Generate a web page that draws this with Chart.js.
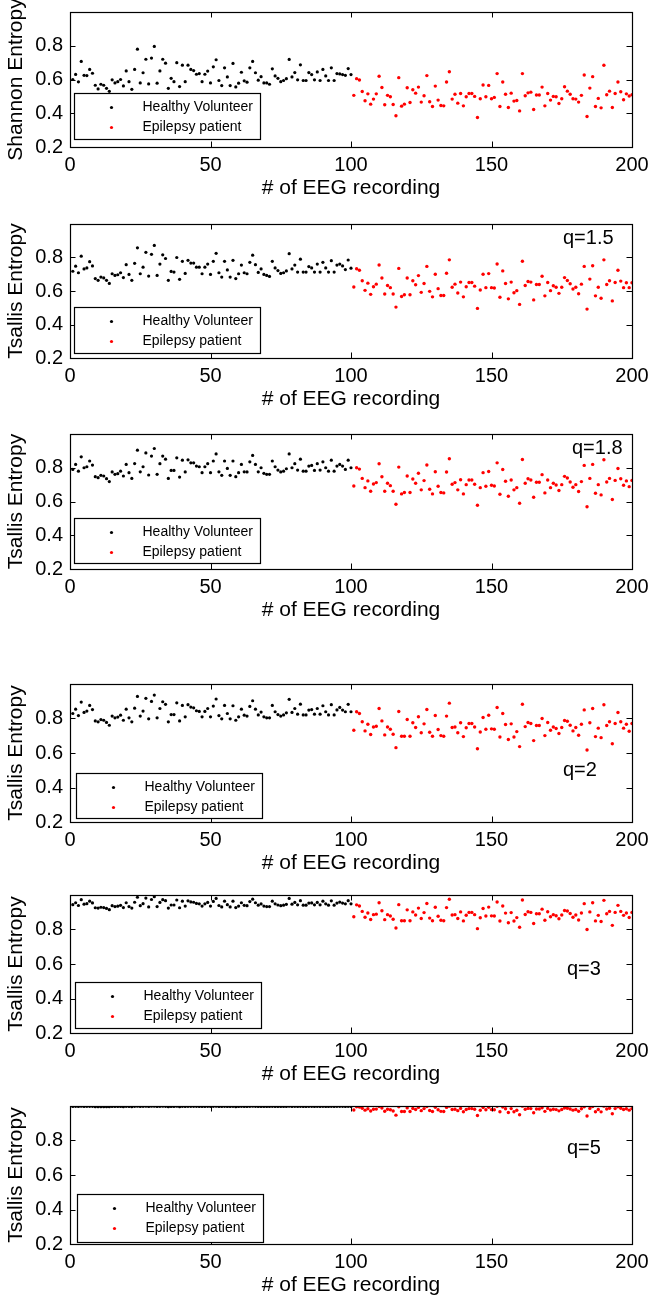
<!DOCTYPE html>
<html><head><meta charset="utf-8">
<script src="https://cdn.jsdelivr.net/npm/chart.js@4.4.0/dist/chart.umd.min.js"></script>
<style>
html,body{margin:0;padding:0;background:#fff;}
body{width:649px;height:1300px;position:relative;overflow:hidden;}
.p{position:absolute;left:0;width:649px;}
canvas{display:block;}
</style></head><body>
<script>
// ---------- data ----------
const xTicks = [0, 50, 100, 150, 200];
const yTicks = [0.2, 0.4, 0.6, 0.8];
const seriesNames = ['Healthy Volunteer', 'Epilepsy patient'];
const xTitle = '# of EEG recording';
const yTitles = ['Shannon Entropy', 'Tsallis Entropy', 'Tsallis Entropy', 'Tsallis Entropy', 'Tsallis Entropy', 'Tsallis Entropy'];
const qLabels = ['', 'q=1.5', 'q=1.8', 'q=2', 'q=3', 'q=5'];

const shannonHealthy = [0.60,0.63,0.586,0.707,0.625,0.623,0.66,0.637,0.566,0.544,
0.572,0.566,0.548,0.53,0.598,0.58,0.587,0.60,0.562,0.651,
0.587,0.542,0.66,0.78,0.58,0.64,0.72,0.574,0.727,0.796,
0.578,0.651,0.72,0.697,0.548,0.607,0.587,0.70,0.558,0.685,
0.587,0.685,0.66,0.653,0.631,0.635,0.587,0.631,0.65,0.58,
0.675,0.717,0.594,0.564,0.669,0.615,0.564,0.695,0.556,0.578,
0.643,0.592,0.584,0.669,0.707,0.64,0.596,0.617,0.58,0.58,
0.572,0.663,0.621,0.607,0.587,0.594,0.605,0.719,0.615,0.641,
0.598,0.687,0.594,0.594,0.641,0.629,0.598,0.645,0.594,0.66,
0.621,0.594,0.669,0.594,0.635,0.633,0.629,0.625,0.665,0.629];
const shannonEpilepsy = [0.506,0.605,0.597,0.529,0.474,0.515,0.454,0.484,0.515,0.619,
0.553,0.45,0.506,0.498,0.452,0.385,0.611,0.442,0.454,0.551,
0.464,0.539,0.519,0.555,0.466,0.504,0.623,0.468,0.44,0.561,
0.478,0.446,0.444,0.585,0.646,0.484,0.513,0.46,0.517,0.444,
0.498,0.517,0.517,0.50,0.375,0.486,0.567,0.498,0.565,0.486,
0.494,0.635,0.44,0.585,0.513,0.434,0.519,0.472,0.476,0.414,
0.635,0.504,0.521,0.525,0.422,0.508,0.508,0.555,0.444,0.517,
0.478,0.50,0.498,0.458,0.486,0.557,0.531,0.513,0.486,0.484,
0.466,0.506,0.627,0.381,0.549,0.617,0.44,0.488,0.432,0.684,
0.51,0.531,0.434,0.517,0.585,0.527,0.48,0.515,0.502,0.51];

const tsallis15Healthy = [0.718,0.748,0.709,0.808,0.732,0.738,0.775,0.75,0.674,0.664,
0.683,0.678,0.664,0.645,0.703,0.693,0.697,0.709,0.68,0.757,
0.699,0.664,0.765,0.858,0.703,0.742,0.831,0.689,0.819,0.872,
0.693,0.761,0.816,0.794,0.664,0.717,0.713,0.80,0.67,0.777,
0.705,0.783,0.767,0.767,0.742,0.742,0.703,0.742,0.761,0.699,
0.777,0.825,0.709,0.683,0.777,0.726,0.683,0.783,0.674,0.703,
0.755,0.709,0.703,0.771,0.814,0.757,0.711,0.732,0.699,0.693,
0.687,0.777,0.738,0.722,0.705,0.709,0.72,0.823,0.732,0.755,
0.713,0.79,0.713,0.713,0.746,0.738,0.713,0.761,0.713,0.771,
0.738,0.713,0.781,0.713,0.755,0.761,0.75,0.728,0.785,0.736];
const tsallis15Epilepsy = [0.624,0.733,0.724,0.661,0.604,0.647,0.58,0.625,0.641,0.755,
0.678,0.582,0.633,0.62,0.582,0.504,0.735,0.567,0.578,0.678,
0.578,0.661,0.637,0.692,0.592,0.645,0.747,0.598,0.565,0.70,
0.614,0.573,0.573,0.706,0.786,0.622,0.641,0.588,0.653,0.565,
0.625,0.651,0.651,0.629,0.496,0.606,0.70,0.62,0.704,0.62,
0.618,0.761,0.563,0.72,0.645,0.553,0.653,0.59,0.602,0.52,
0.778,0.633,0.657,0.653,0.547,0.639,0.639,0.688,0.571,0.651,
0.602,0.631,0.622,0.586,0.622,0.68,0.663,0.643,0.612,0.622,
0.584,0.641,0.747,0.492,0.671,0.751,0.571,0.622,0.557,0.786,
0.639,0.661,0.541,0.651,0.724,0.659,0.62,0.649,0.62,0.649];

const tsallis18Healthy = [0.79,0.82,0.78,0.865,0.80,0.806,0.84,0.816,0.747,0.741,
0.755,0.751,0.735,0.718,0.775,0.761,0.765,0.78,0.751,0.82,
0.771,0.737,0.825,0.904,0.776,0.806,0.888,0.757,0.869,0.914,
0.761,0.824,0.869,0.851,0.737,0.784,0.784,0.859,0.745,0.845,
0.775,0.847,0.829,0.829,0.81,0.806,0.771,0.806,0.824,0.771,
0.84,0.882,0.776,0.755,0.84,0.796,0.755,0.84,0.747,0.771,
0.82,0.776,0.775,0.835,0.873,0.82,0.776,0.80,0.767,0.761,
0.761,0.84,0.806,0.786,0.775,0.78,0.794,0.882,0.80,0.824,
0.786,0.851,0.78,0.78,0.81,0.814,0.784,0.824,0.786,0.835,
0.80,0.78,0.845,0.78,0.81,0.82,0.81,0.79,0.845,0.80];
const tsallis18Epilepsy = [0.692,0.80,0.792,0.737,0.682,0.722,0.661,0.704,0.712,0.824,
0.747,0.661,0.708,0.694,0.661,0.584,0.804,0.645,0.653,0.751,
0.653,0.733,0.708,0.767,0.669,0.724,0.816,0.673,0.645,0.776,
0.69,0.653,0.651,0.775,0.853,0.702,0.712,0.669,0.729,0.645,
0.70,0.727,0.727,0.702,0.578,0.682,0.771,0.69,0.778,0.696,
0.692,0.829,0.643,0.79,0.72,0.631,0.727,0.669,0.682,0.59,
0.849,0.708,0.735,0.727,0.625,0.714,0.714,0.759,0.651,0.727,
0.682,0.708,0.698,0.665,0.70,0.749,0.739,0.716,0.684,0.70,
0.659,0.718,0.814,0.569,0.737,0.82,0.649,0.70,0.639,0.847,
0.716,0.737,0.612,0.725,0.796,0.735,0.696,0.722,0.688,0.725];

const tsallis2Healthy = [0.829,0.854,0.817,0.895,0.835,0.843,0.876,0.852,0.786,0.781,
0.794,0.79,0.777,0.761,0.814,0.804,0.808,0.819,0.79,0.854,
0.804,0.781,0.86,0.928,0.814,0.843,0.917,0.798,0.899,0.936,
0.804,0.858,0.897,0.882,0.781,0.823,0.823,0.891,0.786,0.876,
0.81,0.88,0.866,0.862,0.845,0.841,0.81,0.841,0.858,0.81,
0.872,0.913,0.817,0.798,0.876,0.829,0.798,0.874,0.79,0.81,
0.854,0.819,0.814,0.87,0.903,0.854,0.821,0.837,0.81,0.804,
0.804,0.876,0.839,0.823,0.814,0.821,0.833,0.911,0.835,0.858,
0.825,0.883,0.821,0.821,0.849,0.852,0.825,0.858,0.825,0.874,
0.839,0.821,0.88,0.821,0.85,0.864,0.849,0.839,0.882,0.839];
const tsallis2Epilepsy = [0.732,0.839,0.829,0.781,0.728,0.767,0.707,0.751,0.755,0.858,
0.786,0.705,0.751,0.738,0.709,0.631,0.841,0.697,0.697,0.794,
0.697,0.775,0.748,0.81,0.717,0.769,0.852,0.72,0.697,0.817,
0.736,0.701,0.697,0.814,0.889,0.748,0.751,0.717,0.775,0.695,
0.746,0.771,0.771,0.751,0.625,0.722,0.806,0.738,0.819,0.74,
0.738,0.864,0.693,0.829,0.765,0.678,0.769,0.693,0.724,0.637,
0.883,0.753,0.777,0.771,0.672,0.759,0.759,0.80,0.701,0.777,
0.732,0.751,0.742,0.713,0.748,0.788,0.784,0.761,0.728,0.748,
0.703,0.767,0.85,0.617,0.775,0.858,0.695,0.744,0.689,0.88,
0.759,0.781,0.654,0.771,0.835,0.781,0.744,0.767,0.726,0.771];

const tsallis3Healthy = [0.944,0.955,0.939,0.973,0.947,0.950,0.964,0.954,0.926,0.924,
0.929,0.927,0.922,0.915,0.938,0.933,0.935,0.940,0.927,0.955,
0.933,0.924,0.958,0.987,0.938,0.950,0.982,0.931,0.974,0.990,
0.933,0.957,0.973,0.967,0.924,0.942,0.942,0.971,0.926,0.964,
0.936,0.966,0.960,0.958,0.951,0.949,0.936,0.949,0.957,0.936,
0.963,0.980,0.939,0.931,0.964,0.944,0.931,0.964,0.927,0.936,
0.955,0.940,0.938,0.962,0.976,0.955,0.941,0.948,0.936,0.933,
0.933,0.964,0.949,0.942,0.938,0.941,0.946,0.980,0.947,0.957,
0.943,0.967,0.941,0.941,0.953,0.954,0.943,0.957,0.943,0.964,
0.949,0.941,0.966,0.941,0.953,0.959,0.953,0.949,0.967,0.949];
const tsallis3Epilepsy = [0.874,0.943,0.936,0.905,0.871,0.896,0.858,0.886,0.889,0.955,
0.909,0.857,0.886,0.878,0.859,0.809,0.944,0.851,0.851,0.914,
0.851,0.902,0.884,0.924,0.864,0.898,0.951,0.866,0.851,0.929,
0.877,0.854,0.851,0.927,0.975,0.884,0.886,0.864,0.902,0.850,
0.883,0.899,0.899,0.886,0.805,0.868,0.922,0.878,0.930,0.879,
0.878,0.959,0.849,0.936,0.895,0.839,0.898,0.849,0.869,0.813,
0.971,0.887,0.903,0.899,0.835,0.891,0.891,0.918,0.854,0.903,
0.874,0.886,0.880,0.862,0.884,0.910,0.907,0.893,0.871,0.884,
0.855,0.896,0.950,0.800,0.902,0.955,0.850,0.882,0.846,0.969,
0.891,0.905,0.824,0.899,0.940,0.905,0.882,0.896,0.870,0.899];

const tsallis5Healthy = [0.997,0.998,0.997,0.999,0.997,0.998,0.998,0.998,0.996,0.996,
0.996,0.996,0.996,0.996,0.997,0.997,0.997,0.997,0.996,0.998,
0.997,0.996,0.998,0.999,0.997,0.998,0.999,0.997,0.999,0.999,
0.997,0.998,0.999,0.998,0.996,0.997,0.997,0.999,0.996,0.998,
0.997,0.998,0.998,0.998,0.998,0.997,0.997,0.997,0.998,0.997,
0.998,0.999,0.997,0.997,0.998,0.997,0.997,0.998,0.996,0.997,
0.998,0.997,0.997,0.998,0.999,0.998,0.997,0.997,0.997,0.997,
0.997,0.998,0.997,0.997,0.997,0.997,0.997,0.999,0.997,0.998,
0.997,0.998,0.997,0.997,0.998,0.998,0.997,0.998,0.997,0.998,
0.997,0.997,0.998,0.997,0.998,0.998,0.998,0.997,0.998,0.997];
const tsallis5Epilepsy = [0.977,0.995,0.994,0.987,0.976,0.984,0.971,0.981,0.982,0.997,
0.988,0.970,0.981,0.978,0.971,0.947,0.995,0.968,0.968,0.989,
0.968,0.986,0.980,0.992,0.973,0.985,0.997,0.974,0.968,0.993,
0.978,0.969,0.968,0.992,0.999,0.980,0.981,0.973,0.986,0.967,
0.980,0.985,0.985,0.981,0.945,0.975,0.991,0.978,0.993,0.979,
0.978,0.998,0.967,0.994,0.984,0.962,0.985,0.967,0.975,0.949,
0.999,0.981,0.986,0.985,0.961,0.983,0.983,0.990,0.969,0.986,
0.977,0.981,0.979,0.972,0.980,0.988,0.987,0.983,0.976,0.980,
0.970,0.984,0.996,0.942,0.986,0.997,0.967,0.980,0.966,0.999,
0.983,0.987,0.955,0.985,0.995,0.987,0.980,0.984,0.976,0.985];

const healthySeries = [shannonHealthy, tsallis15Healthy, tsallis18Healthy, tsallis2Healthy, tsallis3Healthy, tsallis5Healthy];
const epilepsySeries = [shannonEpilepsy, tsallis15Epilepsy, tsallis18Epilepsy, tsallis2Epilepsy, tsallis3Epilepsy, tsallis5Epilepsy];

// ---------- layout (page pixels) ----------
const FONT = '"Liberation Sans", Arial, Helvetica, sans-serif';
const panels = [
  {top: 0,    plotH: 135, lgL: 4, lgB: 8, lgH: 46, qx: 0,   qy: 0},
  {top: 212,  plotH: 134, lgL: 4, lgB: 5, lgH: 46, qx: 563, qy: 238},
  {top: 422,  plotH: 135, lgL: 4, lgB: 6, lgH: 45, qx: 572, qy: 448},
  {top: 672,  plotH: 138, lgL: 6, lgB: 4, lgH: 45, qx: 563, qy: 770},
  {top: 883,  plotH: 138, lgL: 5, lgB: 5, lgH: 46, qx: 567, qy: 969},
  {top: 1094, plotH: 138, lgL: 7, lgB: 2, lgH: 48, qx: 567, qy: 1148}
];

const decoPlugin = {
  id: 'deco',
  afterDatasetsDraw(chart, args, opts) {
    const P = panels[opts.idx];
    const {ctx, chartArea: a, scales: {x, y}} = chart;
    ctx.save();
    ctx.strokeStyle = '#000';
    ctx.lineWidth = 1;
    const tl = 5.5;
    ctx.beginPath();
    xTicks.forEach(v => {
      const px = Math.round(x.getPixelForValue(v)) + 0.5;
      ctx.moveTo(px, a.bottom); ctx.lineTo(px, a.bottom - tl);
      ctx.moveTo(px, a.top); ctx.lineTo(px, a.top + tl);
    });
    yTicks.forEach(v => {
      const py = Math.round(y.getPixelForValue(v)) + 0.5;
      ctx.moveTo(a.left, py); ctx.lineTo(a.left + tl, py);
      ctx.moveTo(a.right, py); ctx.lineTo(a.right - tl, py);
    });
    ctx.stroke();
    ctx.lineWidth = 1.2;
    ctx.strokeRect(Math.round(a.left) + 0.5, Math.round(a.top) + 0.5, Math.round(a.right - a.left), Math.round(a.bottom - a.top));
    const bw = 186, bh = P.lgH;
    const bx = Math.round(a.left + P.lgL) + 0.5;
    const by = Math.round(a.bottom - P.lgB - bh) + 0.5;
    ctx.fillStyle = '#fff';
    ctx.fillRect(bx, by, bw, bh);
    ctx.strokeRect(bx, by, bw, bh);
    chart.data.datasets.forEach((ds, k) => {
      const ry = by + 14 + k * 20;
      ctx.fillStyle = ds.pointBackgroundColor;
      ctx.beginPath(); ctx.arc(bx + 37, ry, 1.6, 0, Math.PI * 2); ctx.fill();
      ctx.fillStyle = '#000';
      ctx.font = '14px ' + FONT;
      ctx.textBaseline = 'middle';
      ctx.textAlign = 'left';
      ctx.fillText(ds.label, bx + 68, ry);
    });
    const q = qLabels[opts.idx];
    if (q) {
      ctx.fillStyle = '#000';
      ctx.font = '20px ' + FONT;
      ctx.textBaseline = 'middle';
      ctx.textAlign = 'left';
      ctx.fillText(q, P.qx, P.qy - P.top);
    }
    ctx.restore();
  }
};

function toPoints(vals, startX) {
  return vals.map((v, i) => ({x: startX + i, y: v}));
}

panels.forEach((P, i) => {
  const h = 12 + P.plotH + 55;
  const div = document.createElement('div');
  div.className = 'p';
  div.style.top = P.top + 'px';
  div.style.height = h + 'px';
  const cv = document.createElement('canvas');
  cv.width = 649; cv.height = h;
  cv.style.width = '649px'; cv.style.height = h + 'px';
  div.appendChild(cv);
  document.body.appendChild(div);
  new Chart(cv, {
    type: 'scatter',
    data: {
      datasets: [
        {label: seriesNames[0], data: toPoints(healthySeries[i], 1), pointRadius: 1.6, pointBorderWidth: 0, pointBackgroundColor: '#000000', borderColor: '#000000'},
        {label: seriesNames[1], data: toPoints(epilepsySeries[i], 101), pointRadius: 1.7, pointBorderWidth: 0, pointBackgroundColor: '#ff0000', borderColor: '#ff0000'}
      ]
    },
    plugins: [decoPlugin],
    options: {
      responsive: false,
      animation: false,
      events: [],
      layout: {padding: {top: 12, right: 17, bottom: 0, left: 0}},
      plugins: {legend: {display: false}, tooltip: {enabled: false}, deco: {idx: i}},
      scales: {
        x: {
          type: 'linear', min: 0, max: 200,
          afterBuildTicks: s => { s.ticks = xTicks.map(v => ({value: v})); },
          afterFit: s => { s.height = 55; s.paddingLeft = 0; s.paddingRight = 0; },
          grid: {display: false, drawTicks: false},
          border: {display: false},
          ticks: {padding: 6, color: '#000', autoSkip: false, maxRotation: 0, font: {family: FONT, size: 20}, callback: v => String(v)},
          title: {display: true, text: xTitle, color: '#000', font: {family: FONT, size: 21}, padding: {top: 0, bottom: 1}}
        },
        y: {
          min: 0.2, max: 1.0,
          afterBuildTicks: s => { s.ticks = yTicks.map(v => ({value: v})); },
          afterFit: s => { s.width = 70; s.paddingTop = 0; s.paddingBottom = 0; },
          grid: {display: false, drawTicks: false},
          border: {display: false},
          ticks: {padding: 7, color: '#000', font: {family: FONT, size: 20}, callback: v => Number(v).toFixed(1)},
          title: {display: true, text: yTitles[i], color: '#000', font: {family: FONT, size: 21}, padding: {top: 4, bottom: 0}}
        }
      }
    }
  });
});
</script>
</body></html>
